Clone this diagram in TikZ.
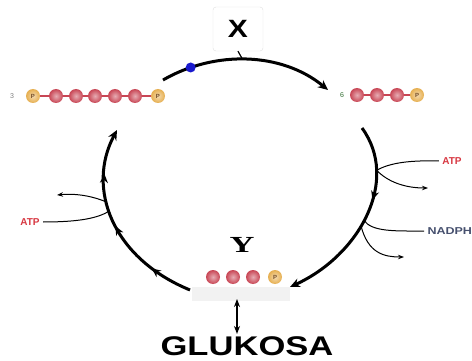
\documentclass[tikz,border=0pt]{standalone}
\usepackage{fontspec}
\setmainfont{Liberation Sans}
\newfontfamily\yfont{Liberation Serif}
\usepackage{tikz}
\usepackage{xcolor}
\usetikzlibrary{arrows.meta, positioning, shapes, decorations.markings}
\definecolor{beadred}{RGB}{200, 70, 85}
\definecolor{beadp}{RGB}{230, 175, 80}
\definecolor{atpred}{RGB}{215, 55, 65}
\definecolor{nadblue}{RGB}{70, 80, 110}
\definecolor{dotblue}{RGB}{25, 25, 205}

\begin{document}
\begin{tikzpicture}[x=1pt,y=-1pt,
    bead/.style={circle,inner sep=0pt,minimum size=14pt,shading=radial,
      inner color=beadred!45!white,outer color=beadred},
    pbead/.style={circle,inner sep=0pt,minimum size=14pt,shading=radial,
      inner color=beadp!45!white,outer color=beadp,
      font=\fontsize{6}{6}\selectfont\bfseries,text=brown!60!black},
    link/.style={beadred,line width=1.2pt},
    flow/.style={line width=3pt,-{Stealth[length=10pt,width=9pt]}},
    side/.style={line width=1pt},
    lbl/.style={font=\fontsize{10}{10}\selectfont\bfseries},
    num/.style={font=\fontsize{7}{7}\selectfont,text=gray}]
        \useasboundingbox (0,0) rectangle (472,361);
        % X box
        \node[draw=gray!25,rounded corners=3pt,minimum width=50pt,minimum height=44pt]
          (xbox) at (238,29) {\fontsize{25}{25}\selectfont\bfseries\scalebox{1.2}[1]{X}};
        % left chain (3 C + P)
        \node[num] (n3) at (12,96) {3};
        \node[pbead] (lp1) at (33,96) {P};
        \foreach \i/\x in {1/56,2/76,3/95,4/115,5/135}
          \node[bead] (l\i) at (\x,96) {};
        \node[pbead] (lp2) at (158,96) {P};
        \foreach \a/\b in {lp1/l1,l1/l2,l2/l3,l3/l4,l4/l5,l5/lp2}
          \draw[link] (\a) -- (\b);
        % right chain
        \node[num,text=gray!60!green!60!black] (n6) at (342,95) {6};
        \node[bead] (r1) at (357,95) {};
        \node[bead] (r2) at (377,95) {};
        \node[bead] (r3) at (397,95) {};
        \node[pbead] (rp) at (417,95) {P};
        \foreach \a/\b in {r1/r2,r2/r3,r3/rp}
          \draw[link] (\a) -- (\b);
        % Y chain
        \fill[gray!10] (192,287) rectangle (290,301);
        \node[font=\fontsize{23}{23}\selectfont\bfseries] (ylbl) at (242,245)
          {\yfont\bfseries\scalebox{1.5}[1]{Y}};
        \node[bead] (y1) at (213,277) {};
        \node[bead] (y2) at (233,277) {};
        \node[bead] (y3) at (253,277) {};
        \node[pbead] (yp) at (275,277) {P};
        % end points of the cycle arcs
        \coordinate (topin) at (163,80);
        \coordinate (topout) at (328,90);
        \coordinate (rin) at (362,128);
        \coordinate (rout) at (290,287);
        \coordinate (lin) at (190,290);
        \coordinate (lout) at (117,130);
        % cycle
        \draw[flow] (topin) .. controls (215,50) and (282,52) .. (topout)
          node[pos=0.17,circle,fill=dotblue,minimum size=10pt,inner sep=0pt] (enz) {}
          node[pos=0.47,coordinate] (xtop) {};
        \draw[line width=1.2pt] (xbox.south) -- (xtop);
        \draw[flow,postaction={decorate},decoration={markings,
            mark=at position 0.38 with {\arrow{Stealth[length=9pt,width=8pt]}}}]
          (rin) .. controls (400,180) and (360,255) .. (rout)
          node[pos=0.25,coordinate] (jr1) {}
          node[pos=0.53,coordinate] (jr2) {}
          node[pos=0.56,coordinate] (jr3) {};
        \draw[flow,postaction={decorate},decoration={markings,
            mark=at position 0.22 with {\arrow{Stealth[length=9pt,width=8pt]}},
            mark=at position 0.5 with {\arrow{Stealth[length=9pt,width=8pt]}},
            mark=at position 0.77 with {\arrow{Stealth[length=9pt,width=8pt]}}}]
          (lin) .. controls (112,258) and (86,188) .. (lout)
          node[pos=0.55,coordinate] (jl1) {}
          node[pos=0.6,coordinate] (jl2) {};
        % side reactions
        \node[lbl,text=atpred] (atpr) at (452,161) {ATP};
        \coordinate (atprout) at (428,188);
        \draw[side] (atpr.west) .. controls (405,160) and (388,164) .. (jr1);
        \draw[side,-{Stealth[length=6pt]}] (jr1) .. controls (388,182) and (405,188) .. (atprout);
        \node[lbl,text=nadblue,anchor=west] (nadph) at (424,231) {\scalebox{1.25}[1]{NADPH}};
        \coordinate (nadout) at (404,257);
        \draw[side] (nadph.west) .. controls (395,231) and (372,232) .. (jr2);
        \draw[side,-{Stealth[length=6pt]}] (jr3) .. controls (368,254) and (385,257) .. (nadout);
        \node[lbl,text=atpred] (atpl) at (30,222) {ATP};
        \coordinate (atplout) at (57,195);
        \draw[side] (atpl.east) .. controls (80,222) and (98,218) .. (jl1);
        \draw[side,-{Stealth[length=6pt]}] (jl2) .. controls (95,197) and (78,193) .. (atplout);
        % glucose
        \node[inner sep=0pt,anchor=base,font=\fontsize{27}{27}\selectfont\bfseries]
          (gluk) at (247,355) {\scalebox{1.28}[1]{GLUKOSA}};
        \coordinate (ybot) at (237,299);
        \draw[line width=2.2pt,{Stealth[length=8pt]}-{Stealth[length=8pt]},shorten >=2pt]
          (ybot) -- (ybot |- gluk.north);
      \end{tikzpicture}
\end{document}
